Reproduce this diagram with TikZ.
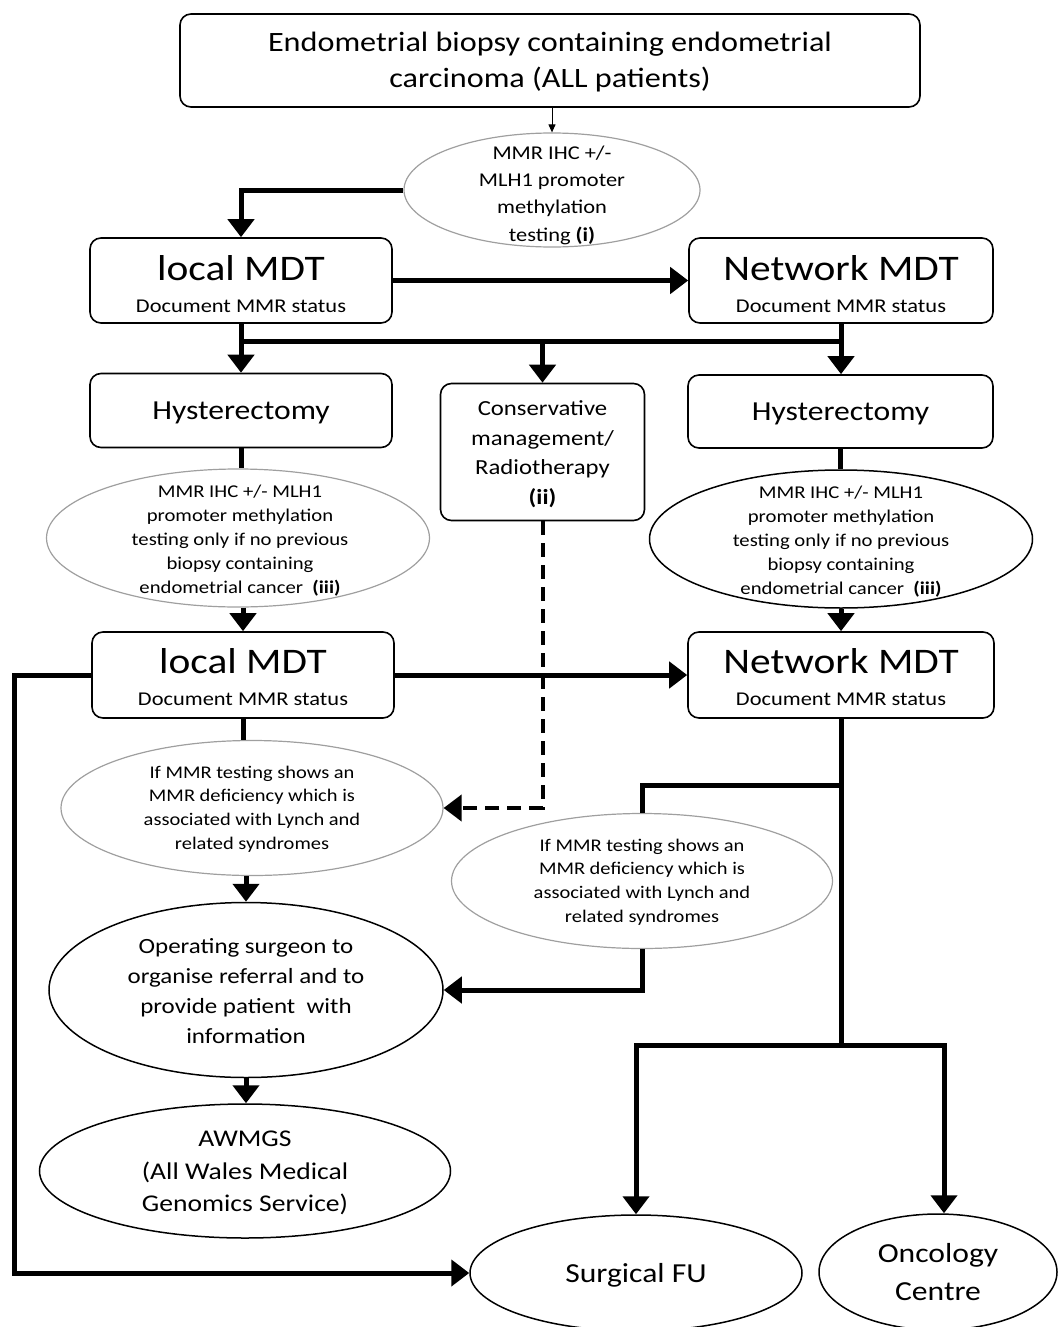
\documentclass[tikz,border=0pt]{standalone}
\usepackage{fontspec}
\setmainfont{Carlito}[FakeStretch=1.15]
\usetikzlibrary{shapes.geometric,arrows.meta}
\newcommand{\fs}[2]{\fontsize{#1}{#2}\selectfont}
\begin{document}
\begin{tikzpicture}[x=1pt,y=-1pt,
  box/.style={draw,rounded corners=11pt,line width=1.6pt,inner sep=0pt,align=center},
  bell/.style={draw,ellipse,line width=1.5pt,inner sep=0pt},
  gell/.style={draw=gray!75,ellipse,line width=1.2pt,inner sep=0pt},
  txt/.style={inner sep=0pt,align=center},
  line/.style={line width=5pt},
  conn/.style={line width=5pt,-{Triangle[length=18pt,width=26pt]}},
  dconn/.style={line width=4pt,dash pattern=on 14pt off 8pt,-{Triangle[length=18pt,width=26pt]}},
  tconn/.style={line width=1pt,-{Triangle[length=8pt,width=7pt]}}
]
\useasboundingbox (0,0) rectangle (1057,1327);

% boxes
\node[box,minimum width=740pt,minimum height=93pt] (top) at (550,60.5) {};
\node[txt,font=\fs{28}{36}] (topt) at (550,62) {Endometrial biopsy containing endometrial\\carcinoma (ALL patients)};

\node[gell,minimum width=296pt,minimum height=114pt] (e1) at (552,190) {};
\node[txt,font=\fs{19.5}{27.3}] (e1t) at (552,195)
  {MMR IHC +/-\\MLH1 promoter\\methylation\\testing \textbf{(i)}};

\node[box,minimum width=302pt,minimum height=85pt] (lm1) at (241,280.5) {};
\node[txt,font=\fs{36}{40}] (lm1t) at (241,268) {local MDT};
\node[txt,font=\fs{19.5}{22}] (lm1s) at (241,306) {Document MMR status};
\node[box,minimum width=304pt,minimum height=85pt] (nm1) at (841,280.5) {};
\node[txt,font=\fs{36}{40}] (nm1t) at (841,268) {Network MDT};
\node[txt,font=\fs{19.5}{22}] (nm1s) at (841,306) {Document MMR status};

\node[box,minimum width=302pt,minimum height=74pt,font=\fs{27.5}{30},text depth=0pt] (hl) at (241,410.5) {Hysterectomy};
\node[box,minimum width=204pt,minimum height=137pt] (cons) at (542.5,452) {};
\node[txt,font=\fs{21.5}{29.5}] (const) at (542.5,454)
  {Conservative\\management/\\Radiotherapy\\\textbf{(ii)}};
\node[box,minimum width=305pt,minimum height=73pt,font=\fs{27.5}{30},text depth=0pt] (hr) at (840.5,411.5) {Hysterectomy};

\node[gell,minimum width=383pt,minimum height=138pt] (e2l) at (238,538) {};
\node[txt,font=\fs{18}{24}] (e2lt) at (240,541)
  {MMR IHC +/- MLH1\\promoter methylation\\testing only if no previous\\biopsy containing\\endometrial cancer\ \ \textbf{(iii)}};
\node[bell,minimum width=383pt,minimum height=138pt] (e2r) at (841,539) {};
\node[txt,font=\fs{18}{24}] (e2rt) at (841,542)
  {MMR IHC +/- MLH1\\promoter methylation\\testing only if no previous\\biopsy containing\\endometrial cancer\ \ \textbf{(iii)}};

\node[box,minimum width=302pt,minimum height=86pt] (lm2) at (243,675) {};
\node[txt,font=\fs{36}{40}] (lm2t) at (243,661) {local MDT};
\node[txt,font=\fs{19.5}{22}] (lm2s) at (243,699) {Document MMR status};
\node[box,minimum width=306pt,minimum height=86pt] (nm2) at (841,675) {};
\node[txt,font=\fs{36}{40}] (nm2t) at (841,661) {Network MDT};
\node[txt,font=\fs{19.5}{22}] (nm2s) at (841,699) {Document MMR status};

\node[gell,minimum width=382pt,minimum height=135pt] (e3l) at (252,808) {};
\node[txt,font=\fs{17.8}{23.7}] (e3lt) at (252,809)
  {If MMR testing shows an\\MMR deficiency which is\\associated with Lynch and\\related syndromes};
\node[gell,minimum width=381pt,minimum height=135pt] (e3r) at (642,881) {};
\node[txt,font=\fs{17.8}{23.7}] (e3rt) at (642,882)
  {If MMR testing shows an\\MMR deficiency which is\\associated with Lynch and\\related syndromes};

\node[bell,minimum width=394pt,minimum height=175pt] (op) at (246,990) {};
\node[txt,font=\fs{21.7}{30}] (opt) at (246,991)
  {Operating surgeon to\\organise referral and to\\provide patient\ \ with\\information};
\node[bell,minimum width=411pt,minimum height=134pt] (aw) at (245,1171) {};
\node[txt,font=\fs{24}{32.5}] (awt) at (245,1173)
  {AWMGS\\(All Wales Medical\\Genomics Service)};
\node[bell,minimum width=332pt,minimum height=116pt] (sfu) at (636,1273) {};
\node[txt,font=\fs{27.5}{30}] (sfut) at (636,1275) {Surgical FU};
\node[bell,minimum width=238pt,minimum height=116pt] (onc) at (938,1272) {};
\node[txt,font=\fs{27.5}{38}] (onct) at (938,1272) {Oncology\\Centre};

% coordinates
\coordinate (bl) at (241,341);
\coordinate (bc) at (542.5,341);
\coordinate (br) at (841,341);
\coordinate (lo) at (14,675);
\coordinate (nr) at (841,785);
\coordinate (nb) at (841,1045);
\coordinate (sl) at (636,1045);
\coordinate (sr) at (944,1045);

% connectors
\draw[tconn] (top.south -| e1.north) -- (e1.north);
\draw[conn] (e1.west) -| (lm1.north);
\draw[conn] (lm1.east) -- (nm1.west);
\draw[line] (lm1.south) -- (bl) -- (br) -- (nm1.south);
\draw[conn] (bl) -- (hl.north);
\draw[conn] (bc) -- (cons.north);
\draw[conn] (br) -- (br |- hr.north);
\draw[line] (hl.south) -- (hl.south |- e2l.north);
\draw[line] (hr.south) -- (hr.south |- e2r.north);
\draw[conn] (e2l.south -| lm2.north) -- (lm2.north);
\draw[conn] (e2r.south -| nm2.north) -- (nm2.north);
\draw[conn] (lm2.east) -- (nm2.west);
\draw[conn] (lm2.west) -- (lo) |- (sfu.west);
\draw[line] (lm2.south) -- (lm2.south |- e3l.north);
\draw[dconn] (cons.south) |- (e3l.east);
\draw[conn] (op.north |- e3l.south) -- (op.north);
\draw[conn] (op.south) -- (op.south |- aw.north);
\draw[line] (nm2.south) -- (nb);
\draw[line] (nr) -| (e3r.north);
\draw[conn] (e3r.south) |- (op.east);
\draw[line,line cap=rect] (sl) -- (sr);
\draw[conn] (sl) -- (sfu.north);
\draw[conn] (sr) -- (sr |- onc.north);
\end{tikzpicture}
\end{document}
